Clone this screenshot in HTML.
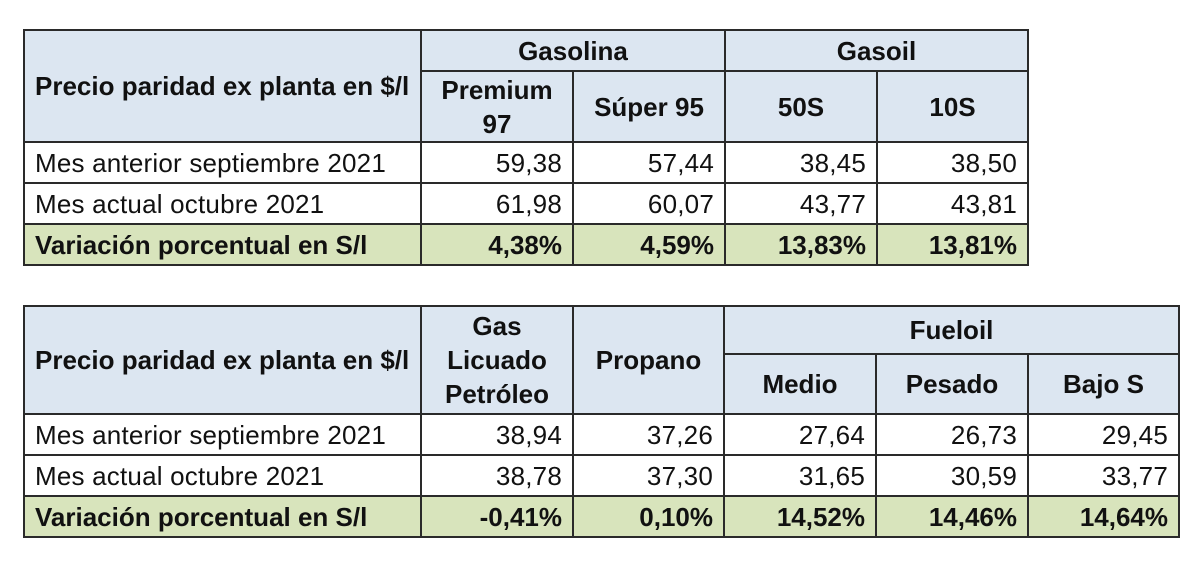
<!DOCTYPE html>
<html><head><meta charset="utf-8">
<style>
body{margin:0;width:1200px;height:562px;background:#fff;position:relative;overflow:hidden;font-family:"Liberation Sans",Arial,sans-serif;color:#111}
.c{position:absolute;box-sizing:border-box;border:2px solid #2a2a2a;display:flex;align-items:center;font-size:26px;line-height:34px;letter-spacing:0.2px;white-space:nowrap}
.h{background:#dce6f1;font-weight:bold;justify-content:center;text-align:center;letter-spacing:0}
.l{justify-content:flex-start;padding-left:10px}
.r{justify-content:flex-end;padding-right:10px}
.g{background:#d8e4bc;font-weight:bold;letter-spacing:0}
</style></head><body>
<div>
<div class="c h l" style="left:23px;top:29px;width:399px;height:114px">Precio paridad ex planta en $/l</div>
<div class="c h" style="left:420px;top:29px;width:306px;height:43px">Gasolina</div>
<div class="c h" style="left:724px;top:29px;width:305px;height:43px">Gasoil</div>
<div class="c h" style="left:420px;top:70px;width:154px;height:73px">Premium<br>97</div>
<div class="c h" style="left:572px;top:70px;width:154px;height:73px">Súper 95</div>
<div class="c h" style="left:724px;top:70px;width:154px;height:73px">50S</div>
<div class="c h" style="left:876px;top:70px;width:153px;height:73px">10S</div>

<div class="c l" style="left:23px;top:141px;width:399px;height:43px">Mes anterior septiembre 2021</div>
<div class="c r" style="left:420px;top:141px;width:154px;height:43px">59,38</div>
<div class="c r" style="left:572px;top:141px;width:154px;height:43px">57,44</div>
<div class="c r" style="left:724px;top:141px;width:154px;height:43px">38,45</div>
<div class="c r" style="left:876px;top:141px;width:153px;height:43px">38,50</div>

<div class="c l" style="left:23px;top:182px;width:399px;height:43px">Mes actual octubre 2021</div>
<div class="c r" style="left:420px;top:182px;width:154px;height:43px">61,98</div>
<div class="c r" style="left:572px;top:182px;width:154px;height:43px">60,07</div>
<div class="c r" style="left:724px;top:182px;width:154px;height:43px">43,77</div>
<div class="c r" style="left:876px;top:182px;width:153px;height:43px">43,81</div>

<div class="c l g" style="left:23px;top:223px;width:399px;height:43px">Variación porcentual en S/l</div>
<div class="c r g" style="left:420px;top:223px;width:154px;height:43px">4,38%</div>
<div class="c r g" style="left:572px;top:223px;width:154px;height:43px">4,59%</div>
<div class="c r g" style="left:724px;top:223px;width:154px;height:43px">13,83%</div>
<div class="c r g" style="left:876px;top:223px;width:153px;height:43px">13,81%</div>
</div>

<div>
<div class="c h l" style="left:23px;top:305px;width:399px;height:110px">Precio paridad ex planta en $/l</div>
<div class="c h" style="left:420px;top:305px;width:154px;height:110px">Gas<br>Licuado<br>Petróleo</div>
<div class="c h" style="left:572px;top:305px;width:153px;height:110px">Propano</div>
<div class="c h" style="left:723px;top:305px;width:457px;height:50px">Fueloil</div>
<div class="c h" style="left:723px;top:353px;width:154px;height:62px">Medio</div>
<div class="c h" style="left:875px;top:353px;width:154px;height:62px">Pesado</div>
<div class="c h" style="left:1027px;top:353px;width:153px;height:62px">Bajo S</div>

<div class="c l" style="left:23px;top:413px;width:399px;height:43px">Mes anterior septiembre 2021</div>
<div class="c r" style="left:420px;top:413px;width:154px;height:43px">38,94</div>
<div class="c r" style="left:572px;top:413px;width:153px;height:43px">37,26</div>
<div class="c r" style="left:723px;top:413px;width:154px;height:43px">27,64</div>
<div class="c r" style="left:875px;top:413px;width:154px;height:43px">26,73</div>
<div class="c r" style="left:1027px;top:413px;width:153px;height:43px">29,45</div>

<div class="c l" style="left:23px;top:454px;width:399px;height:43px">Mes actual octubre 2021</div>
<div class="c r" style="left:420px;top:454px;width:154px;height:43px">38,78</div>
<div class="c r" style="left:572px;top:454px;width:153px;height:43px">37,30</div>
<div class="c r" style="left:723px;top:454px;width:154px;height:43px">31,65</div>
<div class="c r" style="left:875px;top:454px;width:154px;height:43px">30,59</div>
<div class="c r" style="left:1027px;top:454px;width:153px;height:43px">33,77</div>

<div class="c l g" style="left:23px;top:495px;width:399px;height:43px">Variación porcentual en S/l</div>
<div class="c r g" style="left:420px;top:495px;width:154px;height:43px">-0,41%</div>
<div class="c r g" style="left:572px;top:495px;width:153px;height:43px">0,10%</div>
<div class="c r g" style="left:723px;top:495px;width:154px;height:43px">14,52%</div>
<div class="c r g" style="left:875px;top:495px;width:154px;height:43px">14,46%</div>
<div class="c r g" style="left:1027px;top:495px;width:153px;height:43px">14,64%</div>
</div>
</body></html>
